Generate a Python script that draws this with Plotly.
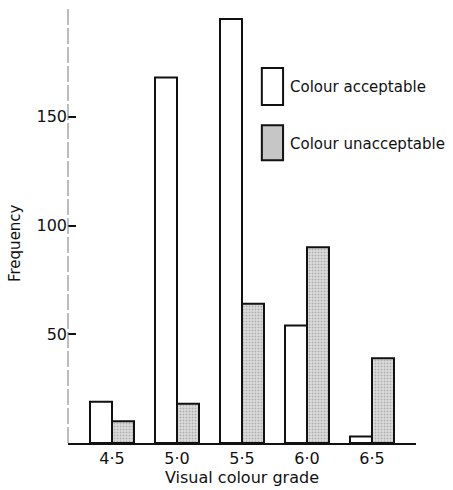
import plotly.graph_objects as go

# Visual colour grade categories and frequency counts
grades = ["4·5", "5·0", "5·5", "6·0", "6·5"]
acceptable = [19, 168, 195, 54, 3]
unacceptable = [10, 18, 64, 90, 39]
y_ticks = [50, 100, 150]
series_names = ["Colour acceptable", "Colour unacceptable"]

FONT = "DejaVu Sans"
INK = "#111111"

fig = go.Figure()
fig.add_trace(go.Bar(
    x=grades, y=acceptable, name=series_names[0],
    marker=dict(color="white", line=dict(color=INK, width=2)),
))
fig.add_trace(go.Bar(
    x=grades, y=unacceptable, name=series_names[1],
    marker=dict(
        color="#d0d0d0",
        line=dict(color=INK, width=2),
        pattern=dict(shape=".", fgcolor="#7e7e7e", bgcolor="#dedede",
                      size=3, solidity=0.35),
    ),
))

# Hand-drawn key: tall swatches with labels beside them
swatches = [
    dict(y0=155.4, y1=172.4, fill="white"),
    dict(y0=130.0, y1=146.1, fill="#c6c6c6"),
]
for s in swatches:
    fig.add_shape(type="rect", xref="paper", yref="y",
                  x0=0.557, x1=0.618, y0=s["y0"], y1=s["y1"],
                  fillcolor=s["fill"], line=dict(color=INK, width=2))
for name, yc in zip(series_names, [163.5, 137.5]):
    fig.add_annotation(text=name, xref="paper", yref="y", x=0.633, y=yc,
                       xanchor="left", yanchor="middle", showarrow=False,
                       font=dict(family=FONT, size=15, color=INK))

# Vertical axis title
fig.add_annotation(text="Frequency", xref="paper", yref="y", x=-0.152, y=92,
                   xanchor="center", yanchor="middle", textangle=-90,
                   showarrow=False, font=dict(family=FONT, size=15, color=INK))

# Faint broken vertical axis line
fig.add_shape(type="line", xref="paper", yref="y", x0=0, x1=0, y0=0, y1=200,
              line=dict(color="#7a7a7a", width=1, dash="16px,3px"))

fig.update_layout(
    width=453, height=490,
    margin=dict(l=68, r=37, t=8, b=47),
    paper_bgcolor="white", plot_bgcolor="white",
    barmode="group", bargap=0.323, bargroupgap=0,
    showlegend=False,
    font=dict(family=FONT, size=16, color=INK),
    xaxis=dict(
        type="category", range=[-0.677, 4.677],
        showline=True, linecolor=INK, linewidth=2,
        ticks="", showgrid=False, zeroline=False,
        tickfont=dict(family=FONT, size=16, color=INK),
        title=dict(text="Visual colour grade", standoff=2,
                   font=dict(family=FONT, size=16, color=INK)),
    ),
    yaxis=dict(
        range=[0, 200], tickvals=y_ticks,
        showline=False, showgrid=False, zeroline=False,
        ticks="inside", ticklen=8, tickwidth=2, tickcolor=INK,
        tickfont=dict(family=FONT, size=16, color=INK),
    ),
)

fig.write_html("out.html")
